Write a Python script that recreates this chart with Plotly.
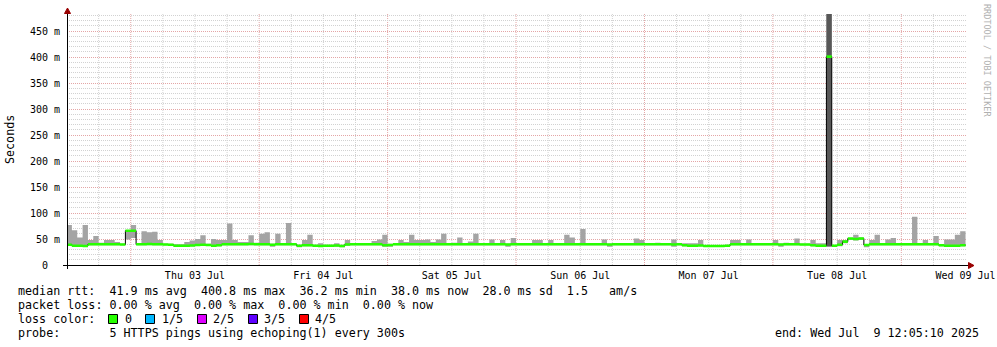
import pandas as pd
import plotly.graph_objects as go

# ---------------------------------------------------------------------------
# Hourly consolidated echoping results, bins 2025-07-02 12:00 .. 2025-07-09 11:00
# ---------------------------------------------------------------------------
bin_edges = pd.date_range("2025-07-02 12:00", periods=169, freq="h")

rtt_median = [
    39, 37, 37, 36.5, 40, 40, 40, 40, 40, 40, 39.5, 66, 66, 40, 40, 40.5, 40, 40, 39.5, 39,
    37, 37, 37, 37.5, 38.5, 39, 38.5, 37, 38, 40, 40, 40, 40, 40, 40.5, 40, 40, 40, 39, 40,
    40, 40, 40, 37, 38, 38, 37, 36.5, 37, 37, 37.5, 36.5, 39.5, 40, 40, 40, 40, 40, 40, 38,
    38.5, 40, 40, 40, 40, 40, 40, 40, 40, 40, 40, 40, 40, 40, 40, 40, 40, 40, 40, 40,
    40, 40, 39.5, 40, 40, 40, 40, 40, 40, 40, 40, 40, 40, 40, 40, 40, 40, 40, 40, 40,
    40, 39.5, 40, 40, 40, 40, 40, 40, 40, 40, 40, 40, 40, 39.5, 40, 38, 37, 37, 37.5, 36.5,
    36.5, 36.5, 36.5, 37, 40, 40, 40, 40, 40, 40, 40, 40, 40, 39.5, 40, 40, 40, 39.5, 39.5, 38,
    37, 37, 400.8, 37, 39, 45, 51, 50, 51, 38.5, 40, 40, 40, 40, 40, 40, 40, 40, 40, 40,
    40, 40, 40, 38, 37, 37, 37, 38,
]

rtt_min = [
    37, 35, 35, 35, 38, 38, 38, 38, 38, 38, 38, 49, 52, 38, 38, 38, 38, 38, 38, 37,
    35, 35, 35, 36, 37, 37, 37, 35, 36, 38, 38, 38, 38, 38, 38, 38, 38, 38, 35, 38,
    38, 38, 38, 34, 36, 36, 35, 35, 35, 35, 35, 34, 37, 38, 38, 38, 38, 38, 38, 35,
    35, 38, 38, 38, 38, 38, 38, 38, 38, 38, 38, 38, 38, 38, 38, 38, 38, 38, 38, 38,
    38, 38, 35, 38, 38, 38, 38, 38, 38, 38, 38, 38, 38, 38, 38, 38, 38, 38, 38, 38,
    38, 35, 38, 38, 38, 38, 38, 38, 38, 38, 38, 38, 38, 35, 38, 36, 35, 35, 36, 35,
    35, 35, 35, 35, 38, 38, 38, 38, 38, 38, 38, 38, 38, 35, 38, 38, 38, 38, 38, 36,
    35, 35, 35.5, 35, 36, 42, 48, 47, 48, 34, 38, 38, 38, 38, 38, 38, 38, 38, 38, 38,
    38, 38, 38, 36, 35, 35, 35, 36,
]

rtt_max = [
    77, 67, 53, 77, 48, 56, 43, 48, 48, 44, 41, 67, 77, 41, 65, 63, 64, 48, 41, 41,
    40, 40, 44, 47, 50, 57, 41, 50, 48, 48, 80, 48, 44, 44, 57, 43, 60, 63, 41, 60,
    42, 81, 41, 39, 48, 58, 39, 42, 39, 39, 42, 39, 48, 41, 41, 41, 41, 46, 49, 58,
    41, 41, 48, 44, 58, 48, 48, 49, 44, 49, 60, 41, 43, 53, 41, 45, 60, 41, 41, 49,
    42, 48, 41, 52, 41, 41, 41, 48, 48, 42, 48, 42, 42, 58, 53, 42, 69, 42, 41, 41,
    49, 41, 42, 42, 42, 42, 51, 48, 41, 41, 43, 41, 41, 49, 41, 42, 42, 42, 48, 38,
    38, 38, 38, 39, 48, 48, 42, 49, 41, 42, 42, 42, 48, 41, 43, 42, 51, 41, 41, 48,
    42, 42, 520, 38, 48, 48, 52, 58, 53, 39, 48, 58, 41, 49, 52, 41, 41, 41, 93, 41,
    48, 41, 56, 39, 49, 49, 58, 65,
]

# bin in which the 2nd..4th pings spread widely
wide_edges = ["2025-07-08 10:00", "2025-07-08 11:00"]
wide_p2 = [35.5, 35.5]
wide_p4 = [520, 520]

x_start, x_end = "2025-07-02 12:05:10", "2025-07-09 12:05:10"
day_ticks = ["2025-07-03 12:00", "2025-07-04 12:00", "2025-07-05 12:00", "2025-07-06 12:00",
             "2025-07-07 12:00", "2025-07-08 12:00", "2025-07-09 12:00"]
day_labels = ["Thu 03 Jul", "Fri 04 Jul", "Sat 05 Jul", "Sun 06 Jul",
              "Mon 07 Jul", "Tue 08 Jul", "Wed 09 Jul"]
y_ticks = [0, 50, 100, 150, 200, 250, 300, 350, 400, 450]
y_labels = ["0  ", "50 m", "100 m", "150 m", "200 m", "250 m", "300 m", "350 m", "400 m", "450 m"]

loss_names = ["0", "1/5", "2/5", "3/5", "4/5"]
loss_colors = ["#26ff00", "#00b8ff", "#dd00ff", "#5e00ff", "#ff0000"]

legend_lines = [
    "median rtt:  41.9 ms avg  400.8 ms max  36.2 ms min  38.0 ms now  28.0 ms sd  1.5   am/s",
    "packet loss: 0.00 % avg  0.00 % max  0.00 % min  0.00 % now",
    "loss color:",
    "probe:       5 HTTPS pings using echoping(1) every 300s",
]
end_text = "end: Wed Jul  9 12:05:10 2025"

# ---------------------------------------------------------------------------
FONT = "DejaVu Sans Mono"
W, H = 997, 347
L, R, T, B = 67, 31, 14, 82
PW, PH = W - L - R, H - T - B
Y_MAX = PH / 0.52
SMOKE = "#a4a4a4"
SMOKE_DARK = "#585858"
GRID = "#d2d2d2"
MGRID = "#e4a6a6"
ARROW = "#990000"


def px(x):
    return (x - L) / PW


def py(y):
    return (H - B - y) / PH


def nb(s):
    return s.replace(" ", "\u00a0")


def closed(vals):
    return list(vals) + [vals[-1]]


fig = go.Figure()


def band(x, lo, hi, color, xaxis="x"):
    fig.add_trace(go.Scatter(x=x, y=lo, mode="lines", xaxis=xaxis,
                             line=dict(width=0, shape="hv"),
                             hoverinfo="skip", showlegend=False))
    fig.add_trace(go.Scatter(x=x, y=hi, mode="lines", xaxis=xaxis,
                             line=dict(width=0, shape="hv"), fill="tonexty", fillcolor=color,
                             hoverinfo="skip", showlegend=False))


# smoke: min..max of the five pings
band(bin_edges, closed(rtt_min), closed(rtt_max), SMOKE)
# dense part of the smoke
band(wide_edges, wide_p2, wide_p4, SMOKE_DARK)
# median as a thin step line (drawn on the labelled time axis, above the smoke)
fig.add_trace(go.Scatter(x=bin_edges, y=closed(rtt_median), mode="lines", xaxis="x2",
                         line=dict(color="#000000", width=1, shape="hv"),
                         hoverinfo="skip", showlegend=False))
# median coloured by packet loss (all 0 here)
half = 2.5
band(bin_edges, closed([m - half for m in rtt_median]), closed([m + half for m in rtt_median]),
     loss_colors[0], xaxis="x2")

fig.update_layout(
    width=W, height=H,
    margin=dict(l=L, r=R, t=T, b=B, pad=0, autoexpand=False),
    paper_bgcolor="white", plot_bgcolor="white",
    showlegend=False,
    xaxis=dict(type="date", range=[x_start, x_end], showticklabels=False, ticks="",
               showgrid=False, zeroline=False, showline=False, automargin=False),
    xaxis2=dict(type="date", range=[x_start, x_end], overlaying="x", anchor="y", side="bottom",
                tickmode="array", tickvals=day_ticks, ticktext=day_labels, ticks="",
                showgrid=False, zeroline=False, showline=False, ticklabelstandoff=3,
                automargin=False,
                tickfont=dict(family=FONT, size=10, color="#000000")),
    yaxis=dict(range=[0, Y_MAX], tickmode="array", tickvals=y_ticks, ticktext=y_labels,
               ticks="", showgrid=True, gridcolor=MGRID, griddash="1px,1px", gridwidth=1,
               minor=dict(tickmode="linear", tick0=0, dtick=10, showgrid=True,
                          gridcolor=GRID, griddash="1px,1px", gridwidth=1),
               zeroline=False, showline=False, ticklabelstandoff=6, automargin=False,
               tickfont=dict(family=FONT, size=10, color="#000000")),
)

shapes = []
# vertical grid: every 6 hours, midnights in the major colour
for t in pd.date_range("2025-07-02 18:00", "2025-07-09 06:00", freq="6h"):
    shapes.append(dict(type="line", xref="x", yref="paper", x0=t, x1=t, y0=0, y1=1,
                       layer="below",
                       line=dict(color=MGRID if t.hour == 0 else GRID, width=1, dash="1px,1px")))

# axes with arrow heads
shapes += [
    dict(type="line", xref="paper", yref="paper", x0=px(63), x1=px(969), y0=py(265.5), y1=py(265.5),
         line=dict(color="#000000", width=1)),
    dict(type="line", xref="paper", yref="paper", x0=px(67.5), x1=px(67.5), y0=py(269), y1=py(11),
         line=dict(color="#000000", width=1)),
    dict(type="path", xref="paper", yref="paper", fillcolor=ARROW, line=dict(color=ARROW, width=1),
         path=f"M {px(64.5)},{py(13.5)} L {px(67.5)},{py(8)} L {px(70.5)},{py(13.5)} Z"),
    dict(type="path", xref="paper", yref="paper", fillcolor=ARROW, line=dict(color=ARROW, width=1),
         path=f"M {px(968.5)},{py(262.5)} L {px(974)},{py(265.5)} L {px(968.5)},{py(268.5)} Z"),
]

annotations = []
line_y = [291, 305, 319, 333]
for text, yc in zip(legend_lines, line_y):
    annotations.append(dict(text=nb(text), xref="paper", yref="paper", x=px(16), y=py(yc),
                            xanchor="left", yanchor="middle", showarrow=False,
                            font=dict(family=FONT, size=11.7, color="#000000")))

box_x = [108, 145, 197, 248, 299]
label_x = [123, 160, 211, 262, 313]
for bx, lx, name, col in zip(box_x, label_x, loss_names, loss_colors):
    shapes.append(dict(type="rect", xref="paper", yref="paper",
                       x0=px(bx + 0.5), x1=px(bx + 9.5), y0=py(314.5), y1=py(323.5),
                       fillcolor=col, line=dict(color="#000000", width=1)))
    annotations.append(dict(text=nb(name), xref="paper", yref="paper", x=px(lx), y=py(319),
                            xanchor="left", yanchor="middle", showarrow=False,
                            font=dict(family=FONT, size=11.7, color="#000000")))

annotations.append(dict(text=nb(end_text), xref="paper", yref="paper", x=px(981), y=py(333),
                        xanchor="right", yanchor="middle", showarrow=False,
                        font=dict(family=FONT, size=11.7, color="#000000")))
annotations.append(dict(text="Seconds", xref="paper", yref="paper", x=px(10), y=py(139),
                        xanchor="center", yanchor="middle", textangle=-90, showarrow=False,
                        font=dict(family=FONT, size=11.7, color="#000000")))
annotations.append(dict(text=nb("RRDTOOL / TOBI OETIKER"), xref="paper", yref="paper",
                        x=px(987), y=py(60), xanchor="center", yanchor="middle", textangle=90,
                        showarrow=False, font=dict(family=FONT, size=8.5, color="#b0b0b0")))

fig.update_layout(shapes=shapes, annotations=annotations)
fig.write_html("out.html")
